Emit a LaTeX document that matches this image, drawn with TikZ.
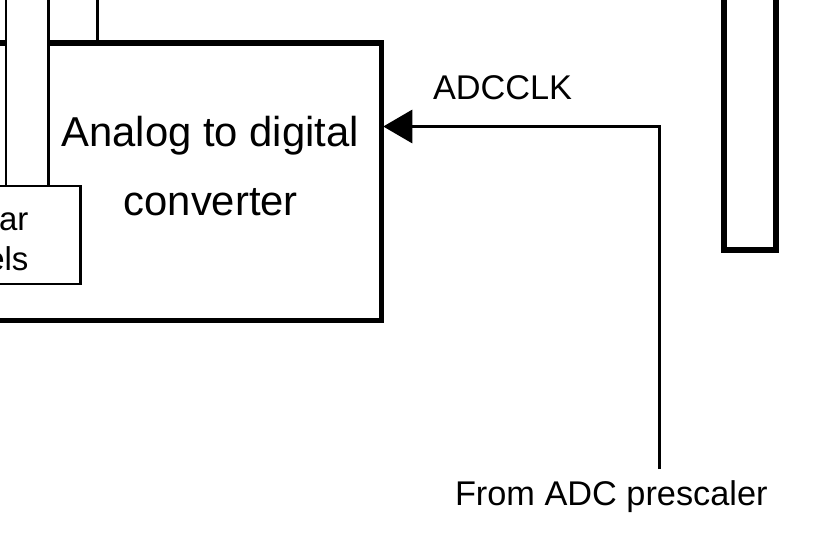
\documentclass[tikz,border=0pt]{standalone}
\usepackage{fontspec}
\setmainfont{Liberation Sans}
\usetikzlibrary{arrows.meta}
\tikzset{
  thickbox/.style={draw=black, line width=5.5pt, fill=white, inner sep=0pt},
  thinline/.style={draw=black, line width=2.5pt},
  lbl/.style={inner sep=0pt, outer sep=0pt, text=black},
  bigtxt/.style={lbl, font=\fontsize{41.8}{50}\selectfont},
  midtxt/.style={lbl, font=\fontsize{34.3}{40}\selectfont},
  smalltxt/.style={lbl, font=\fontsize{33}{40}\selectfont},
  clk/.style={draw=black, line width=3pt, -{Triangle[length=29pt,width=33pt]}}
}
\begin{document}
\begin{tikzpicture}[x=1pt,y=-1pt]
\useasboundingbox (0,0) rectangle (817,536);
\clip (0,0) rectangle (817,536);
\fill[white] (0,0) rectangle (817,536);
% ADC box
\node[thickbox, minimum width=401.5pt, minimum height=277.5pt] (adc) at (180.75,181.75) {};
% line into top of ADC
\coordinate (topin) at (97.5,-10);
\draw[black, line width=3pt] (topin) -- (topin |- adc.north);
% white strip crossing the box
\fill[white] (6.2,-10) rectangle (48.7,185);
\coordinate (stripA) at (6.2,-10);
\coordinate (stripB) at (48.7,-10);
% small box
\node[thinline, fill=white, minimum width=140.3pt, minimum height=98pt, inner sep=0pt] (reg) at (10.15,235) {};
\draw[thinline] (stripA) -- (stripA |- reg.north);
\draw[thinline] (stripB) -- (stripB |- reg.north);
\node[smalltxt, anchor=base east] (regA) at (28.5,230) {Regular};
\node[smalltxt, anchor=base east] (regB) at (28.5,270) {channels};
% ADC text
\node[bigtxt, anchor=base] (adcA) at (210.3,146.7) {Analog to digital};
\node[bigtxt, anchor=base] (adcB) at (210.8,215) {converter};
% right tall rectangle
\node[draw=black, line width=6pt, inner sep=0pt, minimum width=52pt, minimum height=269.7pt] (bus) at (750,114.85) {};
% clock
\node[midtxt, anchor=base west] (clklbl) at (433,99.3) {ADCCLK};
\node[midtxt, anchor=base west] (presc) at (455,505) {From ADC prescaler};
\coordinate (src) at (659.5,469);
\coordinate (corner) at (659.5,126.5);
\draw[clk, shorten >=-1pt] (src) -- (corner) -- (corner -| adc.east);
\end{tikzpicture}
\end{document}
